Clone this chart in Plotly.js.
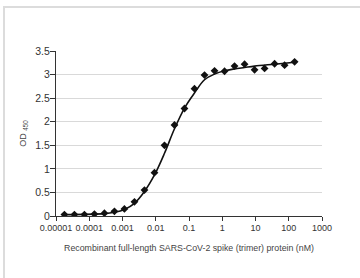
<!DOCTYPE html>
<html>
<head>
<meta charset="utf-8">
<script src="https://cdn.plot.ly/plotly-3.0.1.min.js"></script>
<style>
html,body{margin:0;padding:0;background:#fff;}
#wrap{position:relative;width:360px;height:278px;overflow:hidden;}
#chart{width:360px;height:278px;}
#frame{position:absolute;left:3px;top:6px;width:400px;height:300px;border-left:2px solid #dcdcdc;border-top:2px solid #dcdcdc;pointer-events:none;}
</style>
</head>
<body>
<div id="wrap"><div id="chart"></div><div id="frame"></div></div>
<script>
// Measured data (2-fold dilution series, nM) and OD450 readings
const concentration = [0.0000179, 0.0000358, 0.0000715, 0.000143, 0.000286, 0.000572, 0.00114, 0.00229, 0.00458, 0.00916, 0.0183, 0.0366, 0.0732, 0.146, 0.293, 0.586, 1.17, 2.34, 4.69, 9.375, 18.75, 37.5, 75, 150];
const od450 = [0.03, 0.03, 0.03, 0.04, 0.06, 0.10, 0.15, 0.30, 0.55, 0.92, 1.50, 1.93, 2.28, 2.70, 2.99, 3.08, 3.07, 3.18, 3.22, 3.10, 3.13, 3.23, 3.20, 3.27];

// Fitted curve
const fitConc = [0.0000179, 0.000286, 0.000572, 0.00114, 0.00229, 0.00458, 0.00916, 0.0183, 0.0366, 0.0732, 0.146, 0.293, 0.586, 1.17, 2.34, 4.69, 9.375, 37.5, 150];
const fitOD = [0.03, 0.05, 0.08, 0.14, 0.27, 0.52, 0.87, 1.33, 1.85, 2.29, 2.61, 2.89, 3.01, 3.08, 3.12, 3.15, 3.18, 3.22, 3.26];

const xTickVals = [0.00001, 0.0001, 0.001, 0.01, 0.1, 1, 10, 100, 1000];
const xTickText = ["0.00001", "0.0001", "0.001", "0.01", "0.1", "1", "10", "100", "1000"];
const yTickVals = [0, 0.5, 1, 1.5, 2, 2.5, 3, 3.5];
const yTickText = ["0", "0.5", "1", "1.5", "2", "2.5", "3", "3.5"];

const traces = [
  {x: fitConc, y: fitOD, type: 'scatter', mode: 'lines',
   line: {color: '#111', width: 1.6, shape: 'spline', smoothing: 1}, hoverinfo: 'skip'},
  {x: concentration, y: od450, type: 'scatter', mode: 'markers',
   marker: {symbol: 'diamond', size: 6, color: '#111'}}
];

const layout = {
  width: 360, height: 278,
  margin: {l: 56, r: 38, t: 51, b: 62},
  paper_bgcolor: '#fff', plot_bgcolor: '#fff',
  showlegend: false,
  font: {family: 'Liberation Sans, Arial, sans-serif', size: 10, color: '#333'},
  xaxis: {
    type: 'log', range: [-5, 3],
    tickvals: xTickVals, ticktext: xTickText, tickangle: 0,
    showgrid: false, zeroline: false,
    showline: true, linecolor: '#333', linewidth: 1,
    ticks: 'outside', ticklen: 4, tickcolor: '#333', tickwidth: 1,
    ticklabelstandoff: -1,
    tickfont: {size: 9, color: '#333'},
    title: {text: 'Recombinant full-length SARS-CoV-2 spike (trimer) protein (nM)',
            font: {family: 'Liberation Sans, Arial, sans-serif', size: 8.8, color: '#444'}, standoff: 13}
  },
  yaxis: {
    range: [0, 3.5],
    tickvals: yTickVals, ticktext: yTickText,
    showgrid: true, gridcolor: '#d9d9d9', gridwidth: 1,
    zeroline: false,
    showline: true, linecolor: '#333', linewidth: 1,
    ticks: 'outside', ticklen: 5, tickcolor: '#333', tickwidth: 1,
    ticklabelstandoff: -2,
    tickfont: {size: 10.5, color: '#333'},
    title: {text: 'OD <sub>450</sub>', font: {size: 9, color: '#444'}, standoff: 7}
  }
};

Plotly.newPlot('chart', traces, layout, {staticPlot: true, displayModeBar: false});
</script>
</body>
</html>
